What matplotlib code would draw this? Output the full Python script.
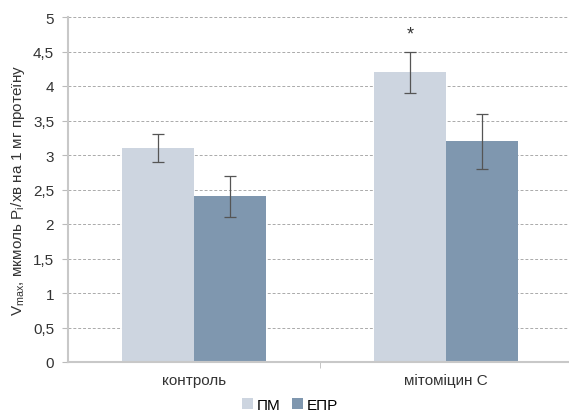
import numpy as np
from matplotlib import pyplot as plt

plt.rcParams['font.family'] = ['Liberation Sans', 'DejaVu Sans']

categories = ['контроль', 'мітоміцин С']
pm = [3.1, 4.2]
pm_err = [0.2, 0.3]
epr = [2.4, 3.2]
epr_err = [0.3, 0.4]
series_names = ['ПМ', 'ЕПР']

fig = plt.figure(figsize=(5.69, 4.14), dpi=100)
ax = fig.add_axes([68 / 569, 51 / 414, 501 / 569, 345 / 414])

x = np.arange(len(categories))
w = 0.286
ebar = dict(ecolor='#555555', elinewidth=0.9, capsize=4, capthick=0.9)
ax.bar(x - w / 2, pm, w, yerr=pm_err, color='#CDD5E0', label=series_names[0],
       error_kw=ebar, zorder=2)
ax.bar(x + w / 2, epr, w, yerr=epr_err, color='#7F97AF', label=series_names[1],
       error_kw=ebar, zorder=2)
ax.text(x[1] - w / 2, 4.76, '*', ha='center', va='center', fontsize=13, color='#333333')

ax.set_xlim(-0.5, 1.488)
ax.set_ylim(0, 5)
ax.set_yticks(np.arange(0, 5.01, 0.5))
ax.set_yticklabels([f'{v:g}'.replace('.', ',') for v in np.arange(0, 5.01, 0.5)],
                   fontsize=11, color='#333333')
ax.set_xticks(x)
ax.set_xticklabels(categories, fontsize=11, color='#333333')
ax.tick_params(axis='x', length=0, pad=8)
ax.tick_params(axis='y', length=4, color='#BBBBBB', pad=6)
ax.set_xticks([0.5], minor=True)
ax.tick_params(axis='x', which='minor', length=4, color='#BBBBBB')

ax.grid(axis='y', linestyle=(0, (3, 2)), color='#AAAAAA', linewidth=0.7, zorder=0)
for s in ['top', 'right']:
    ax.spines[s].set_visible(False)
ax.spines['left'].set_color('#C8C8C8')
ax.spines['left'].set_linewidth(1.5)
ax.spines['bottom'].set_color('#C8C8C8')
ax.spines['bottom'].set_linewidth(1.5)

ax.set_ylabel('V$_{\\mathregular{max}}$, мкмоль P$_{\\mathregular{i}}$/хв на 1 мг протеїну',
              fontsize=11, color='#333333', labelpad=4)

fig.legend(loc='center', bbox_to_anchor=(290 / 569, 1 - 406 / 414), ncol=2,
           frameon=False, fontsize=11, handlelength=0.7, handleheight=0.7,
           handletextpad=0.25, columnspacing=0.8)

fig.savefig('out.png', dpi=100)
